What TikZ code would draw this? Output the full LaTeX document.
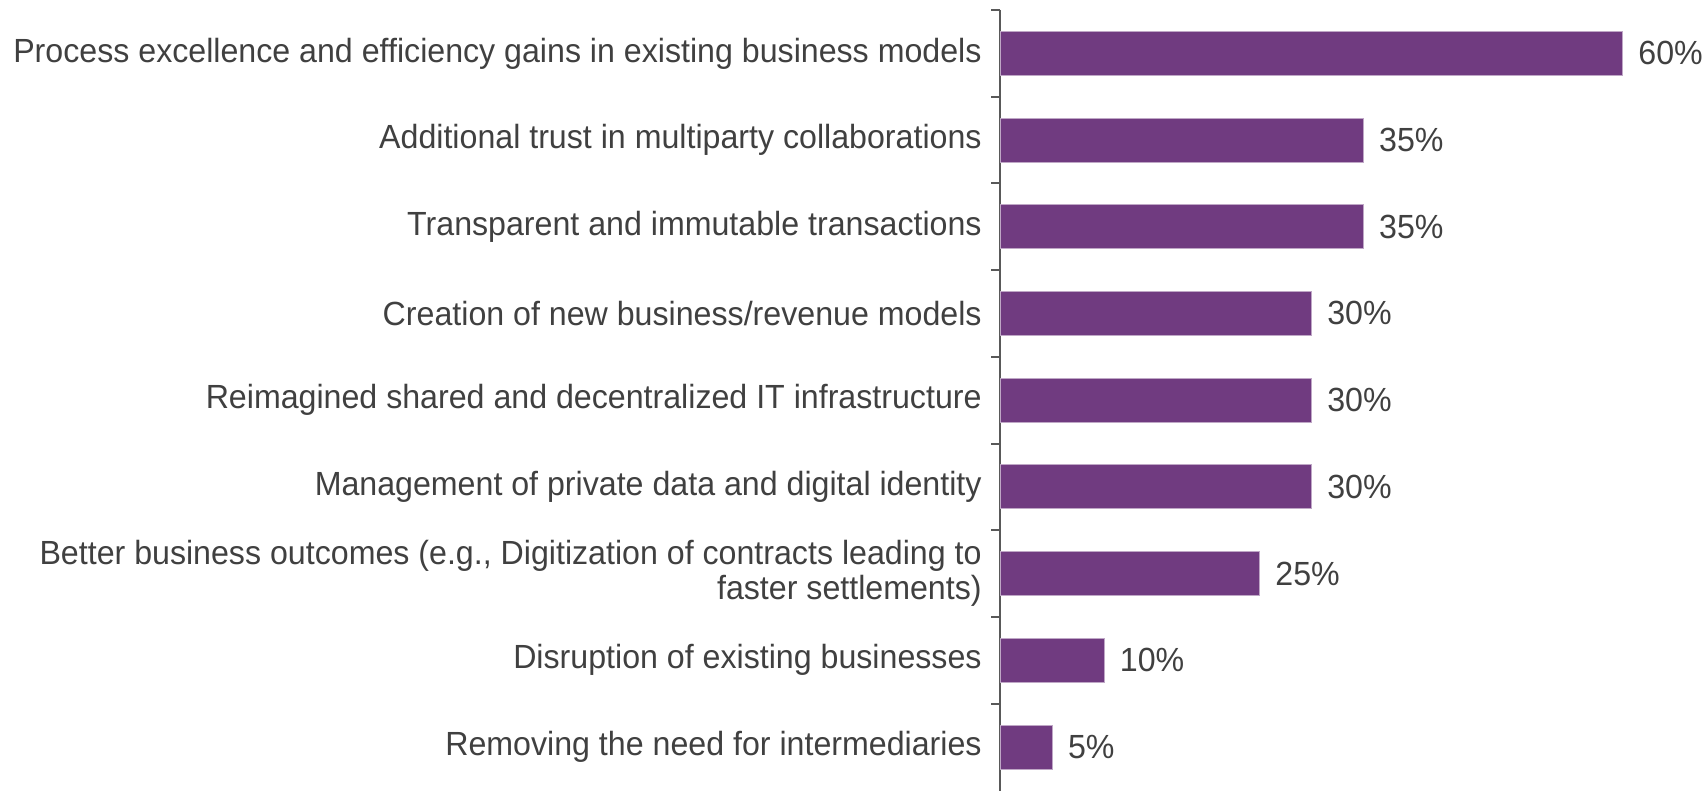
\documentclass[tikz,border=0pt]{standalone}
\usepackage{fontspec}
\setmainfont[FakeStretch=0.96]{Liberation Sans}
\usetikzlibrary{positioning}
\definecolor{barpurple}{RGB}{112,59,128}
\definecolor{textgray}{RGB}{64,64,64}
\definecolor{axisgray}{RGB}{89,89,89}
\tikzset{
  cat/.style={anchor=east, inner sep=0pt, align=right, text=textgray, font=\fontsize{16.75}{17.5}\selectfont},
  val/.style={anchor=west, inner sep=0pt, text=textgray, font=\fontsize{16.75}{17.5}\selectfont},
  bar/.style={fill=barpurple, draw=barpurple!45!white, line width=0.4pt, anchor=west, inner sep=0pt, minimum height=22pt},
}
\begin{document}
\begin{tikzpicture}[x=0.5pt, y=-0.5pt]
    \useasboundingbox (0,0) rectangle (1706,791);

    % Axis
    \coordinate (top) at (1000,10);
    \coordinate (bottom) at (1000,791);
    \draw[axisgray, line width=1pt] (top) -- (bottom);
    \foreach \k in {0,...,8} {
      \draw[axisgray, line width=1pt] (991,{10+86.7*\k}) -- (1000,{10+86.7*\k});
    }

    % Bars
    \foreach \i/\v/\txt in {
      1/60/{Process excellence and efficiency gains in existing business models},
      2/35/{Additional trust in multiparty collaborations},
      3/35/{Transparent and immutable transactions},
      4/30/{Creation of new business/revenue models},
      5/30/{Reimagined shared and decentralized IT infrastructure},
      6/30/{Management of private data and digital identity},
      7/25/{Better business outcomes (e.g., Digitization of contracts leading to\\faster settlements)},
      8/10/{Disruption of existing businesses},
      9/5/{Removing the need for intermediaries}} {
      \node[cat] (c\i) at (982,{10+86.7*(\i-0.5)}) {\txt};
      \node[bar, minimum width={\v*5.185pt}] (b\i) at (1000,{10+86.7*(\i-0.5)}) {};
      \node[val, right=7.5pt of b\i] (v\i) {\v\%};
    }
  \end{tikzpicture}
\end{document}
